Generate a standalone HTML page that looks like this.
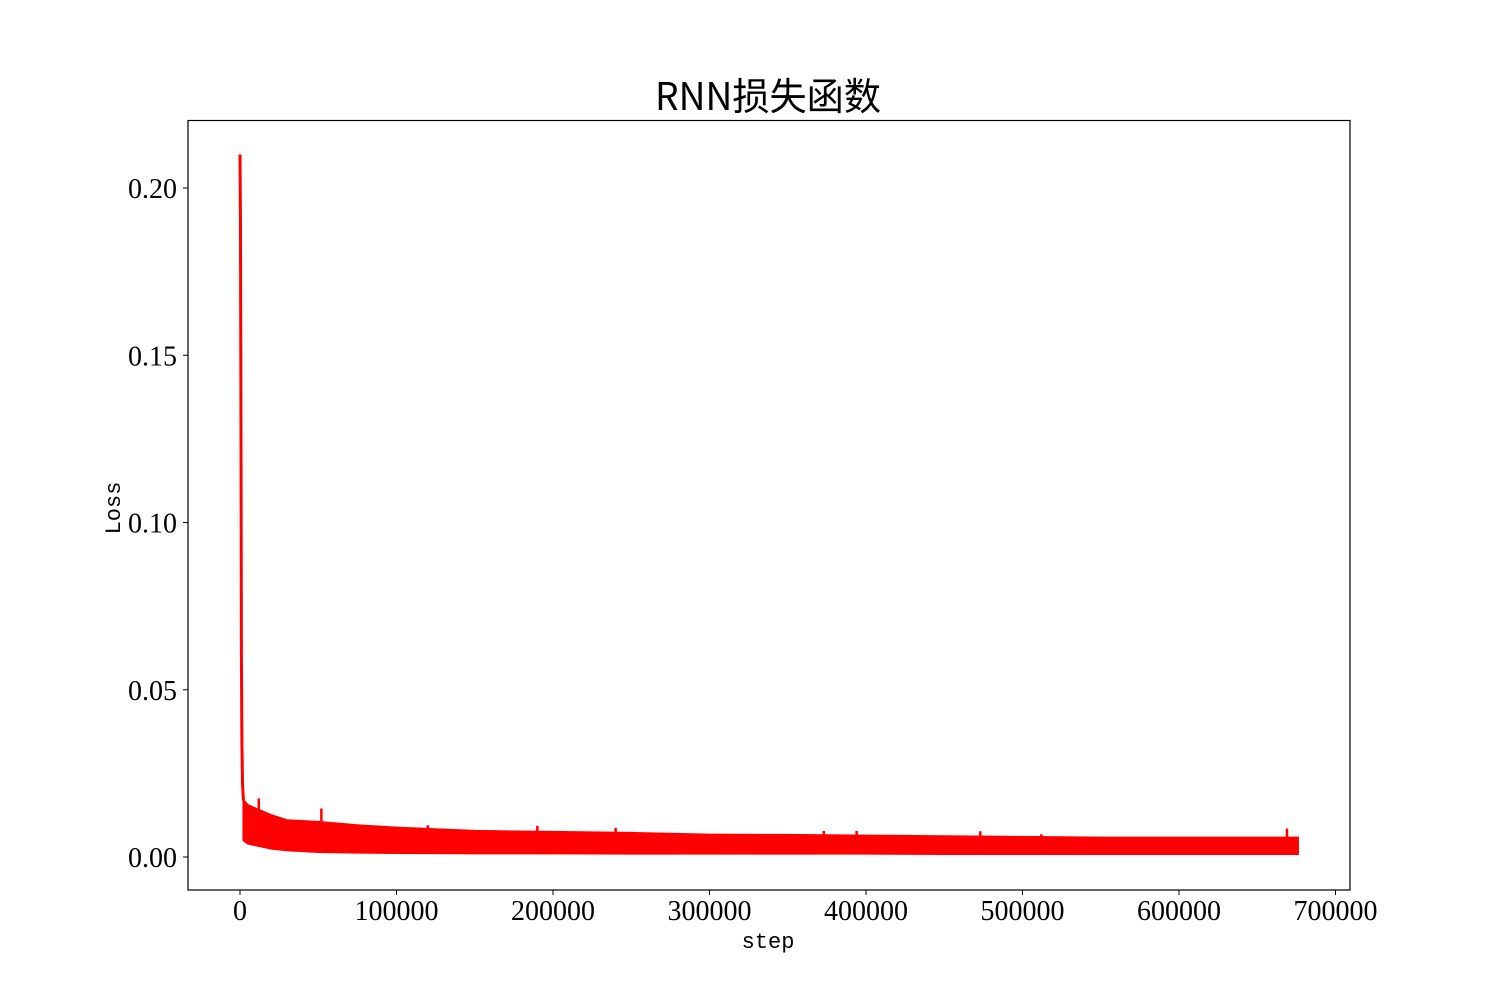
<!DOCTYPE html>
<html><head><meta charset="utf-8"><style>
body{margin:0;background:#fff}
svg text{font-family:"Liberation Serif","Noto Serif CJK SC",serif}
</style></head><body>
<svg id="chart" width="1500" height="1000">
<rect width="1500" height="1000" fill="#fff"/>
<text x="768" y="110" text-anchor="middle" font-size="38" textLength="226" lengthAdjust="spacingAndGlyphs" style="font-family:'Noto Sans CJK SC','WenQuanYi Zen Hei',sans-serif">RNN损失函数</text>
<g id="plot"></g>
<rect x="188" y="120.5" width="1162" height="769.5" fill="none" stroke="#000" stroke-width="1.2"/>
<g id="axes"></g>
<text x="768" y="948" text-anchor="middle" font-size="22" style="font-family:'Liberation Mono',monospace">step</text>
<text transform="translate(120,508) rotate(-90)" text-anchor="middle" font-size="22" style="font-family:'Liberation Mono',monospace">Loss</text>
</svg>
<script>
const xTicks=[0,100000,200000,300000,400000,500000,600000,700000];
const yTicks=[0,0.05,0.10,0.15,0.20];
const yTickLabels=["0.00","0.05","0.10","0.15","0.20"];
const headSteps=[0,300,600,900,1200,1600,2200];
const headValues=[0.21,0.19,0.135,0.06,0.035,0.022,0.017];
const bandSteps=[2200,5000,10000,20000,30000,50000,75000,100000,150000,200000,250000,300000,350000,400000,450000,500000,550000,600000,650000,676000];
const bandUpper=[0.017,0.0155,0.0145,0.0125,0.011,0.0105,0.0095,0.0088,0.0078,0.0075,0.0072,0.0067,0.0066,0.0064,0.0062,0.006,0.0058,0.0058,0.0058,0.0058];
const bandLower=[0.005,0.004,0.0035,0.0025,0.002,0.0015,0.0013,0.0012,0.0011,0.0011,0.001,0.001,0.001,0.001,0.0009,0.0009,0.0009,0.0009,0.0009,0.0009];
const spikeSteps=[12000,52000,120000,190000,240000,373000,394000,473000,512000,669000];
const spikeValues=[0.0175,0.0145,0.0095,0.0093,0.0087,0.0078,0.0078,0.0077,0.0068,0.0085];
const X=v=>240+v*(1335.5-240)/700000;
const Y=v=>857-v*(857-188)/0.2;
const NS='http://www.w3.org/2000/svg';
const plot=document.getElementById('plot'),axes=document.getElementById('axes');
function mk(t,a,p){const e=document.createElementNS(NS,t);for(const k in a)e.setAttribute(k,a[k]);p.appendChild(e);return e;}
let d='';
bandSteps.forEach((s,i)=>{d+=(i?'L':'M')+X(s)+' '+Y(bandUpper[i]);});
for(let i=bandSteps.length-1;i>=0;i--)d+='L'+X(bandSteps[i])+' '+Y(bandLower[i]);
const band=mk('path',{d:d+'Z',fill:'#ff0000',stroke:'#ff0000','stroke-width':2},plot);


let hd='';headSteps.forEach((s,i)=>{hd+=(i?'L':'M')+X(s)+' '+Y(headValues[i]);});
const head=mk('path',{d:hd,fill:'none',stroke:'#ff0000','stroke-width':3},plot);


spikeSteps.forEach((s,i)=>{const l=mk('line',{x1:X(s),x2:X(s),y1:Y(0.003),y2:Y(spikeValues[i]),stroke:'#ff0000','stroke-width':2.5},plot);

});
xTicks.forEach(t=>{const l=mk('line',{x1:X(t),x2:X(t),y1:890,y2:895,stroke:'#000'},axes);


const tx=mk('text',{x:X(t),y:920,'text-anchor':'middle','font-size':28},axes);tx.textContent=String(t);

});
yTicks.forEach((t,i)=>{const l=mk('line',{x1:183,x2:188,y1:Y(t),y2:Y(t),stroke:'#000'},axes);


const tx=mk('text',{x:177,y:Y(t)+10,'text-anchor':'end','font-size':28},axes);tx.textContent=yTickLabels[i];

});
</script>
</body></html>
